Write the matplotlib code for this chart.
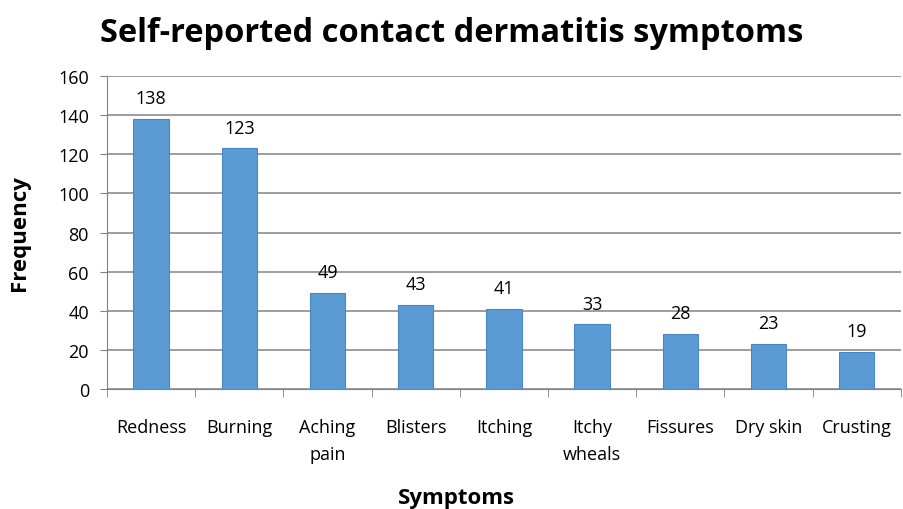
import matplotlib
matplotlib.use("Agg")
from matplotlib import pyplot as plt
import numpy as np

# --- datos ---
sintomas = ["Redness", "Burning", "Aching\npain", "Blisters", "Itching",
            "Itchy\nwheals", "Fissures", "Dry skin", "Crusting"]
frecuencia = [138, 123, 49, 43, 41, 33, 28, 23, 19]

plt.rcParams['font.family'] = ['Open Sans', 'DejaVu Sans']

fig = plt.figure(figsize=(9.04, 5.10), dpi=100)
ax = fig.add_axes([0.1184, 0.2353, 0.878, 0.6137])

x = np.arange(len(sintomas))
ax.bar(x, frecuencia, width=0.4, color='#5b9bd5', edgecolor='#4a86c0',
       linewidth=0.8, zorder=3)

for xi, v in zip(x, frecuencia):
    ax.text(xi, v + 6, str(v), ha='center', va='bottom', fontsize=13)

ax.set_xlim(-0.5, len(sintomas) - 0.5)
ax.set_ylim(0, 160)
ax.set_yticks(range(0, 161, 20))
ax.set_xticks(x)
ax.set_xticklabels(sintomas, fontsize=13, linespacing=1.6)
ax.set_xticks(np.arange(-0.5, len(sintomas) - 0.4, 1), minor=True)
ax.tick_params(axis='x', which='major', length=0, pad=21)
ax.tick_params(axis='x', which='minor', length=6, color='#808080')
ax.tick_params(axis='y', labelsize=13, length=5, color='#808080', pad=8)

ax.grid(axis='y', color='#8c8c8c', linewidth=1.2, zorder=0)
for s in ['top', 'right']:
    ax.spines[s].set_visible(False)
ax.spines['left'].set_color('#808080')
ax.spines['bottom'].set_color('#808080')

ax.set_ylabel("Frequency", fontsize=16, fontweight='bold', labelpad=20)
fig.text(0.505, 0.022, "Symptoms", ha='center', va='center',
         fontsize=16, fontweight='bold')
fig.text(0.5, 0.935, "Self-reported contact dermatitis symptoms",
         ha='center', va='center', fontsize=23.5, fontweight='bold')

fig.savefig("out.png", dpi=100)
